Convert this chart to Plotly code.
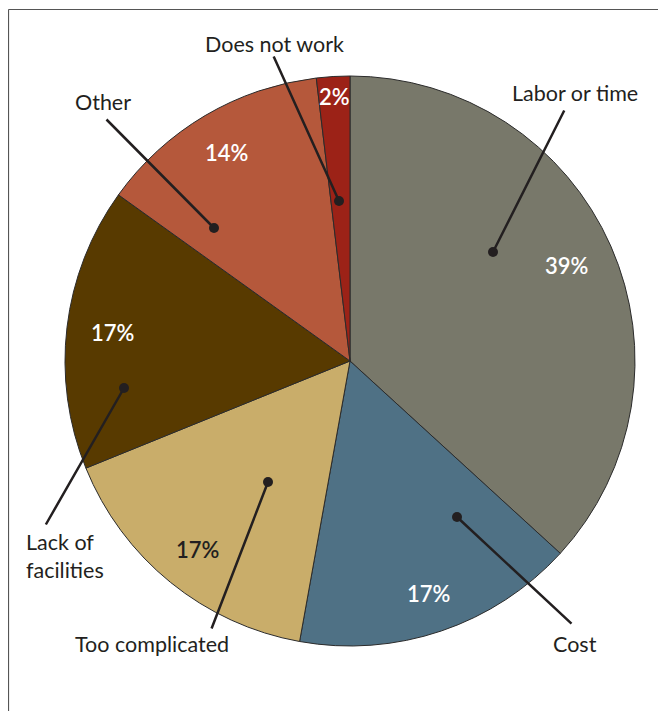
import math
import plotly.graph_objects as go

# ---- data ----
categories = ["Labor or time", "Cost", "Too complicated", "Lack of facilities", "Other", "Does not work"]
values = [39, 17, 17, 17, 14, 2]
pct_labels = ["39%", "17%", "17%", "17%", "14%", "2%"]

# ---- style / layout ----
colors = ["#78786a", "#4f7185", "#c9ad6a", "#583a00", "#b5583b", "#9c2217"]
pct_colors = ["white", "white", "#231f20", "white", "white", "white"]
OFF = 8  # page body margin
W, H = 666 - OFF, 711 - OFF
CX, CY, R = 350, 361, 285  # screen pixel coordinates
FONT = "Lato"
INK = "#231f20"


def px(x):
    return (x - OFF) / W


def py(y):
    return 1 - (y - OFF) / H


fig = go.Figure(go.Pie(
    labels=categories,
    values=values,
    sort=False,
    direction="clockwise",
    rotation=0,
    textinfo="none",
    hoverinfo="label+value",
    marker=dict(colors=colors, line=dict(color="#2b2b2b", width=1)),
    domain=dict(x=[px(CX - R), px(CX + R)], y=[py(CY + R), py(CY - R)]),
    showlegend=False,
))

annotations = []

# percentage labels placed at each slice's mid-angle
total = sum(values)
cum = 0
rfrac = [0.83, 0.86, 0.85, 0.84, 0.85, 0.93]
for v, t, c, rf in zip(values, pct_labels, pct_colors, rfrac):
    a = math.radians((cum + v / 2) / total * 360)
    cum += v
    x = CX + rf * R * math.sin(a)
    y = CY - rf * R * math.cos(a)
    annotations.append(dict(x=px(x), y=py(y), xref="paper", yref="paper", text=t,
                            showarrow=False,
                            font=dict(family=FONT, size=22, color=c, weight=600),
                            xanchor="center", yanchor="middle"))

# leader lines: (dot, tail) in screen pixels
leaders = [
    ((493, 252), (565, 109)),
    ((457, 517), (573, 625)),
    ((268, 482), (211, 630)),
    ((124, 388), (45, 526)),
    ((214, 228), (105, 118)),
    ((339, 201), (273, 55)),
]
for (dx, dy), (tx, ty) in leaders:
    annotations.append(dict(x=px(dx), y=py(dy), xref="paper", yref="paper", text="",
                            showarrow=True, arrowhead=6, arrowsize=1, arrowwidth=2.5,
                            arrowcolor=INK, ax=tx - dx, ay=ty - dy, standoff=0))

# category labels
label_pos = [
    ("Labor or time", 575, 93, "center"),
    ("Cost", 575, 644, "center"),
    ("Too complicated", 152, 644, "center"),
    ("Lack of<br>facilities", 24, 556, "left"),
    ("Other", 103, 102, "center"),
    ("Does not work", 274, 44, "center"),
]
for t, x, y, anc in label_pos:
    annotations.append(dict(x=px(x), y=py(y), xref="paper", yref="paper", text=t,
                            showarrow=False, align="left",
                            font=dict(family=FONT, size=21.5, color=INK),
                            xanchor=anc, yanchor="middle"))

shapes = [
    dict(type="line", xref="paper", yref="paper", x0=px(8.5), x1=px(8.5), y0=py(9.5), y1=0,
         line=dict(color="#555555", width=1.2)),
    dict(type="line", xref="paper", yref="paper", x0=px(8.5), x1=1, y0=py(9.5), y1=py(9.5),
         line=dict(color="#555555", width=1.2)),
]

fig.update_layout(
    width=W, height=H,
    margin=dict(l=0, r=0, t=0, b=0),
    paper_bgcolor="white",
    plot_bgcolor="white",
    annotations=annotations,
    shapes=shapes,
)

fig.write_html("out.html")
